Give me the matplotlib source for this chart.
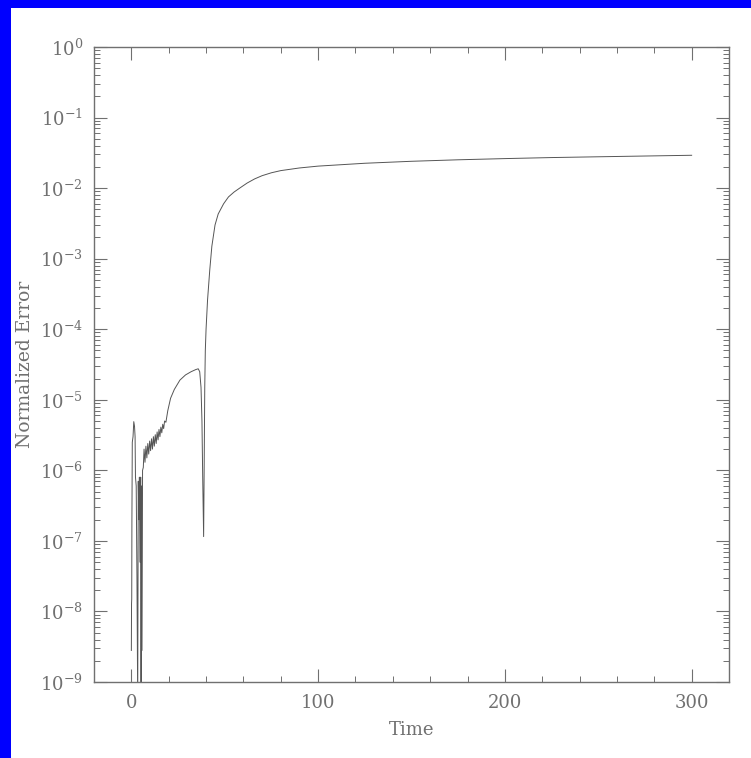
import matplotlib

matplotlib.use("Agg")
import matplotlib.pyplot as plt
from matplotlib.patches import Rectangle
from matplotlib.ticker import LogLocator, MultipleLocator, NullFormatter

# normalized error vs time
time = [0.0, 0.1, 0.2, 0.3, 0.5, 0.9, 1.3, 1.7, 2.0, 2.2, 2.6, 3.0, 3.4, 3.7,
        4.0, 4.3, 4.6, 5.0, 5.2, 5.4, 5.7, 6.0, 6.4, 6.8, 7.3, 7.8, 8.3, 8.8,
        9.3, 9.8, 10.3, 10.8, 11.3, 11.8, 12.3, 12.8, 13.3, 13.8, 14.3, 14.8,
        15.3, 15.8, 16.3, 16.8, 17.3, 17.8, 18.5, 19.5, 21.0, 23.0, 26.0,
        29.0, 32.0, 34.5, 35.8, 36.6, 37.3, 37.8, 38.2, 38.7, 39.0, 39.3,
        39.6, 40.0, 40.8, 42.0, 43.1, 44.8, 46.5, 49.4, 52.0, 55.0, 58.0,
        62.0, 66.0, 70.0, 75.0, 80.0, 90.0, 100.0, 125.0, 150.0, 175.0,
        200.0, 225.0, 250.0, 275.0, 300.0]
error = [2.8e-9, 1.3e-8, 1.5e-8, 2.0e-7, 2.5e-6, 3.0e-6, 4.9e-6, 4.2e-6,
         3.0e-6, 8.0e-7, 6.0e-7, 3.0e-8, 5.0e-10, 7.0e-7, 2.0e-7, 8.0e-7,
         5.0e-8, 8.0e-7, 5.0e-10, 6.0e-7, 2.8e-9, 1.0e-6, 1.1e-6, 2.0e-6,
         1.3e-6, 2.2e-6, 1.5e-6, 2.4e-6, 1.7e-6, 2.6e-6, 1.9e-6, 2.8e-6,
         2.0e-6, 3.0e-6, 2.2e-6, 3.2e-6, 2.4e-6, 3.5e-6, 2.7e-6, 3.8e-6,
         3.0e-6, 4.1e-6, 3.4e-6, 4.5e-6, 3.9e-6, 5.0e-6, 4.8e-6, 7.0e-6,
         1.05e-5, 1.4e-5, 1.9e-5, 2.25e-5, 2.5e-5, 2.68e-5, 2.75e-5, 2.5e-5,
         1.5e-5, 5.0e-6, 8.0e-7, 1.15e-7, 1.2e-6, 1.5e-5, 5.0e-5, 1.0e-4,
         2.6e-4, 7.0e-4, 1.5e-3, 3.0e-3, 4.3e-3, 6.0e-3, 7.5e-3, 8.8e-3,
         1.0e-2, 1.18e-2, 1.35e-2, 1.5e-2, 1.65e-2, 1.77e-2, 1.93e-2,
         2.05e-2, 2.25e-2, 2.4e-2, 2.52e-2, 2.62e-2, 2.71e-2, 2.78e-2,
         2.85e-2, 2.92e-2]

GREY = "#707070"
plt.rcParams["font.family"] = "DejaVu Serif"
plt.rcParams["mathtext.fontset"] = "dejavuserif"

fig = plt.figure(figsize=(7.51, 7.58), dpi=100)
fig.patch.set_facecolor("white")
# blue frame on the top and left edges
fig.add_artist(Rectangle((0, 1 - 8 / 758), 1, 8 / 758, transform=fig.transFigure,
                         facecolor="#0000ff", edgecolor="none"))
fig.add_artist(Rectangle((0, 0), 11 / 751, 1, transform=fig.transFigure,
                         facecolor="#0000ff", edgecolor="none"))

ax = fig.add_axes([94 / 751, 76 / 758, 635 / 751, 635 / 758])
ax.plot(time, error, color="#555555", linewidth=0.7)
ax.set_yscale("log")
ax.set_xlim(-20, 320)
ax.set_ylim(1e-9, 1)

ax.xaxis.set_major_locator(MultipleLocator(100))
ax.xaxis.set_minor_locator(MultipleLocator(20))
ax.yaxis.set_major_locator(LogLocator(base=10, numticks=20))
ax.yaxis.set_minor_locator(LogLocator(base=10, subs=range(2, 10), numticks=20))
ax.yaxis.set_minor_formatter(NullFormatter())

ax.tick_params(which="both", direction="in", top=True, right=True,
               color=GREY, labelcolor=GREY, labelsize=13)
ax.tick_params(which="major", length=9.5, width=0.8)
ax.tick_params(which="minor", length=4.5, width=0.7)
ax.tick_params(axis="x", pad=9)
ax.tick_params(axis="y", pad=8)
for s in ax.spines.values():
    s.set_color(GREY)
    s.set_linewidth(1.0)

ax.set_xlabel("Time", fontsize=13, color=GREY, labelpad=6)
ax.set_ylabel("Normalized Error", fontsize=13.5, color=GREY, labelpad=4)

fig.savefig("out.png", dpi=100)
